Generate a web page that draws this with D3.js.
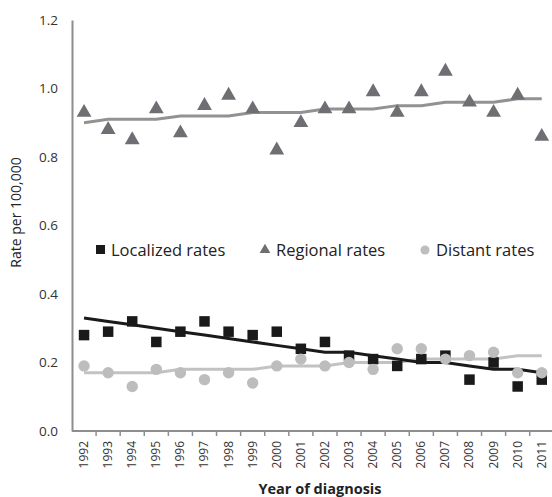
<!DOCTYPE html>
<html>
<head>
<meta charset="utf-8">
<script src="https://cdn.jsdelivr.net/npm/d3@7"></script>
<style>
  html, body { margin: 0; padding: 0; background: #fff; }
  svg { display: block; font-family: "Open Sans", "DejaVu Sans", sans-serif; }
</style>
</head>
<body>
<svg id="chart" width="552" height="497"></svg>
<script>
// Incidence rates per 100,000 by stage at diagnosis, 1992-2011
const years = ["1992","1993","1994","1995","1996","1997","1998","1999","2000","2001",
               "2002","2003","2004","2005","2006","2007","2008","2009","2010","2011"];

const localizedRates = [0.28,0.29,0.32,0.26,0.29,0.32,0.29,0.28,0.29,0.24,
                        0.26,0.22,0.21,0.19,0.21,0.22,0.15,0.20,0.13,0.15];
const regionalRates  = [0.93,0.88,0.85,0.94,0.87,0.95,0.98,0.94,0.82,0.90,
                        0.94,0.94,0.99,0.93,0.99,1.05,0.96,0.93,0.98,0.86];
const distantRates   = [0.19,0.17,0.13,0.18,0.17,0.15,0.17,0.14,0.19,0.21,
                        0.19,0.20,0.18,0.24,0.24,0.21,0.22,0.23,0.17,0.17];

// Modelled (fitted) trends
const localizedFit = [0.33,0.32,0.31,0.30,0.29,0.28,0.27,0.26,0.25,0.24,
                      0.23,0.23,0.22,0.21,0.20,0.20,0.19,0.18,0.18,0.17];
const regionalFit  = [0.90,0.91,0.91,0.91,0.92,0.92,0.92,0.93,0.93,0.93,
                      0.94,0.94,0.94,0.95,0.95,0.96,0.96,0.96,0.97,0.97];
const distantFit   = [0.17,0.17,0.17,0.17,0.18,0.18,0.18,0.18,0.19,0.19,
                      0.19,0.20,0.20,0.20,0.21,0.21,0.21,0.21,0.22,0.22];

const yTicks = [0, 0.2, 0.4, 0.6, 0.8, 1.0, 1.2];
const legendLabels = ["Localized rates", "Regional rates", "Distant rates"];

const svg = d3.select("#chart");
const plotLeft = 72, plotTop = 20, plotBottom = 431;
const step = 24.09;

const x = d3.scaleBand().domain(years).range([plotLeft, plotLeft + step * years.length]).padding(0);
const y = d3.scaleLinear().domain([0, 1.2]).range([plotBottom, plotTop]);
const cx = d => x(d) + x.bandwidth() / 2;

const axisColor = "#8e8e8e";

// Y axis
const yAxis = svg.append("g")
  .attr("transform", `translate(${plotLeft},0)`)
  .call(d3.axisLeft(y).tickValues(yTicks).tickFormat(d3.format(".1f")).tickSize(0).tickPadding(14));
yAxis.select(".domain").attr("stroke", axisColor).attr("stroke-width", 2);
yAxis.selectAll("text").attr("font-size", 13.5).attr("fill", "#333")
  .attr("font-family", "'Open Sans', sans-serif");

// X axis with ticks at the category boundaries
const xAxisG = svg.append("g").attr("transform", `translate(0,${plotBottom})`);
xAxisG.append("line")
  .attr("x1", plotLeft).attr("x2", plotLeft + step * years.length)
  .attr("stroke", axisColor).attr("stroke-width", 2);
xAxisG.selectAll("line.tick")
  .data(years.slice(1))
  .join("line")
  .attr("class", "tick")
  .attr("x1", d => x(d)).attr("x2", d => x(d))
  .attr("y1", 0).attr("y2", 5)
  .attr("stroke", axisColor).attr("stroke-width", 1.5);
xAxisG.selectAll("text")
  .data(years)
  .join("text")
  .attr("transform", d => `translate(${cx(d) + 4},10) rotate(-90)`)
  .attr("text-anchor", "end")
  .attr("font-size", 12)
  .attr("fill", "#333")
  .text(d => d);

// Axis titles
svg.append("text")
  .attr("transform", `translate(21,${(plotTop + plotBottom) / 2 - 13}) rotate(-90)`)
  .attr("text-anchor", "middle")
  .attr("font-size", 14)
  .attr("fill", "#222")
  .text("Rate per 100,000");

svg.append("text")
  .attr("x", 320).attr("y", 494)
  .attr("text-anchor", "middle")
  .attr("font-size", 14.5)
  .attr("font-weight", "bold")
  .attr("fill", "#222")
  .text("Year of diagnosis");

// Fitted trend lines
const line = d3.line().x((d, i) => cx(years[i])).y(d => y(d));
svg.append("path").datum(distantFit).attr("d", line)
  .attr("fill", "none").attr("stroke", "#c2c2c2").attr("stroke-width", 3);
svg.append("path").datum(localizedFit).attr("d", line)
  .attr("fill", "none").attr("stroke", "#1a1a1a").attr("stroke-width", 3);
svg.append("path").datum(regionalFit).attr("d", line)
  .attr("fill", "none").attr("stroke", "#929292").attr("stroke-width", 3);

// Observed rates
const sq = 10.5;
svg.append("g").selectAll("rect")
  .data(localizedRates)
  .join("rect")
  .attr("x", (d, i) => cx(years[i]) - sq / 2)
  .attr("y", d => y(d) - sq / 2)
  .attr("width", sq).attr("height", sq)
  .attr("fill", "#1a1a1a");

const tri = d3.symbol().type(d3.symbolTriangle).size(95);
svg.append("g").selectAll("path")
  .data(regionalRates)
  .join("path")
  .attr("d", tri)
  .attr("transform", (d, i) => `translate(${cx(years[i])},${y(d)})`)
  .attr("fill", "#6e6f72");

svg.append("g").selectAll("circle")
  .data(distantRates)
  .join("circle")
  .attr("cx", (d, i) => cx(years[i]))
  .attr("cy", d => y(d))
  .attr("r", 5.7)
  .attr("fill", "#bdbdbd");

// Legend
const legend = svg.append("g").attr("font-size", 16.5).attr("fill", "#222");
legend.append("rect").attr("x", 96).attr("y", 245).attr("width", 9).attr("height", 9).attr("fill", "#1a1a1a");
legend.append("text").attr("x", 111).attr("y", 256).text(legendLabels[0]);
legend.append("path").attr("d", d3.symbol().type(d3.symbolTriangle).size(50))
  .attr("transform", "translate(265,250)").attr("fill", "#6e6f72");
legend.append("text").attr("x", 276).attr("y", 256).text(legendLabels[1]);
legend.append("circle").attr("cx", 425).attr("cy", 250).attr("r", 4.5).attr("fill", "#bdbdbd");
legend.append("text").attr("x", 436).attr("y", 256).text(legendLabels[2]);
</script>
</body>
</html>
